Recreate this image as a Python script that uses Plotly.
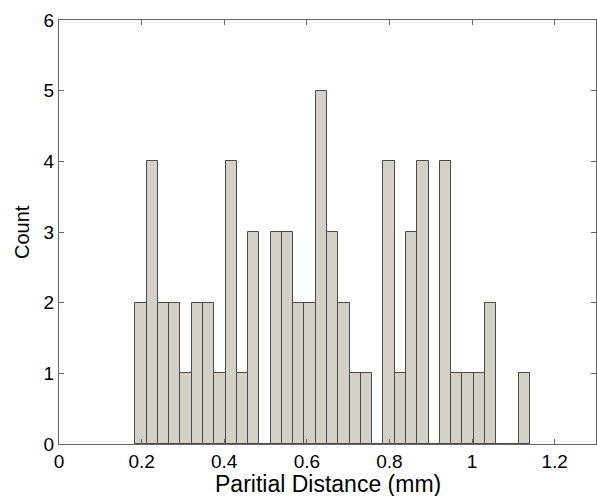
import plotly.graph_objects as go

# Histogram data
counts = [2, 4, 2, 2, 1, 2, 2, 1, 4, 1, 3, 0, 3, 3, 2, 2, 5, 3, 2, 1, 1, 0,
          4, 1, 3, 4, 0, 4, 1, 1, 1, 2, 0, 0, 1]
bin_left = 0.1847
bin_width = 0.0273
x_ticks = [0, 0.2, 0.4, 0.6, 0.8, 1.0, 1.2]
x_tick_labels = ["0", "0.2", "0.4", "0.6", "0.8", "1", "1.2"]
y_ticks = [0, 1, 2, 3, 4, 5, 6]

centers = [bin_left + bin_width * (i + 0.5) for i in range(len(counts))]

FONT = "Liberation Sans, Arial"

fig = go.Figure(go.Bar(
    x=centers, y=counts, width=[bin_width] * len(counts),
    marker=dict(color="#d4d0c8", line=dict(color="#4a4a4a", width=1)),
))

axis_common = dict(
    showline=True, linecolor="#666666", linewidth=1, mirror="ticks",
    ticks="inside", ticklen=5, tickcolor="#666666",
    showgrid=False, zeroline=False, automargin=False,
    tickfont=dict(family=FONT, size=19, color="black"),
)

fig.update_layout(
    width=597, height=496,
    margin=dict(l=59, r=1, t=20, b=52),
    paper_bgcolor="white", plot_bgcolor="white",
    showlegend=False, bargap=0,
    xaxis=dict(range=[0, 1.3], tickvals=x_ticks, ticktext=x_tick_labels,
               **axis_common),
    yaxis=dict(range=[0, 6], tickvals=y_ticks, **axis_common),
    annotations=[
        dict(text="Paritial Distance (mm)", xref="paper", yref="paper",
             x=0.5, y=0, xanchor="center", yanchor="middle", yshift=-40,
             showarrow=False, font=dict(family=FONT, size=23, color="black")),
        dict(text="Count", xref="paper", yref="paper", textangle=-90,
             x=0, y=0.5, xanchor="center", yanchor="middle", xshift=-37,
             showarrow=False, font=dict(family=FONT, size=20, color="black")),
    ],
)

fig.write_html(
    "out.html",
    config={"displayModeBar": False},
    post_script="document.body.style.margin='0';document.body.style.overflow='hidden';",
)
